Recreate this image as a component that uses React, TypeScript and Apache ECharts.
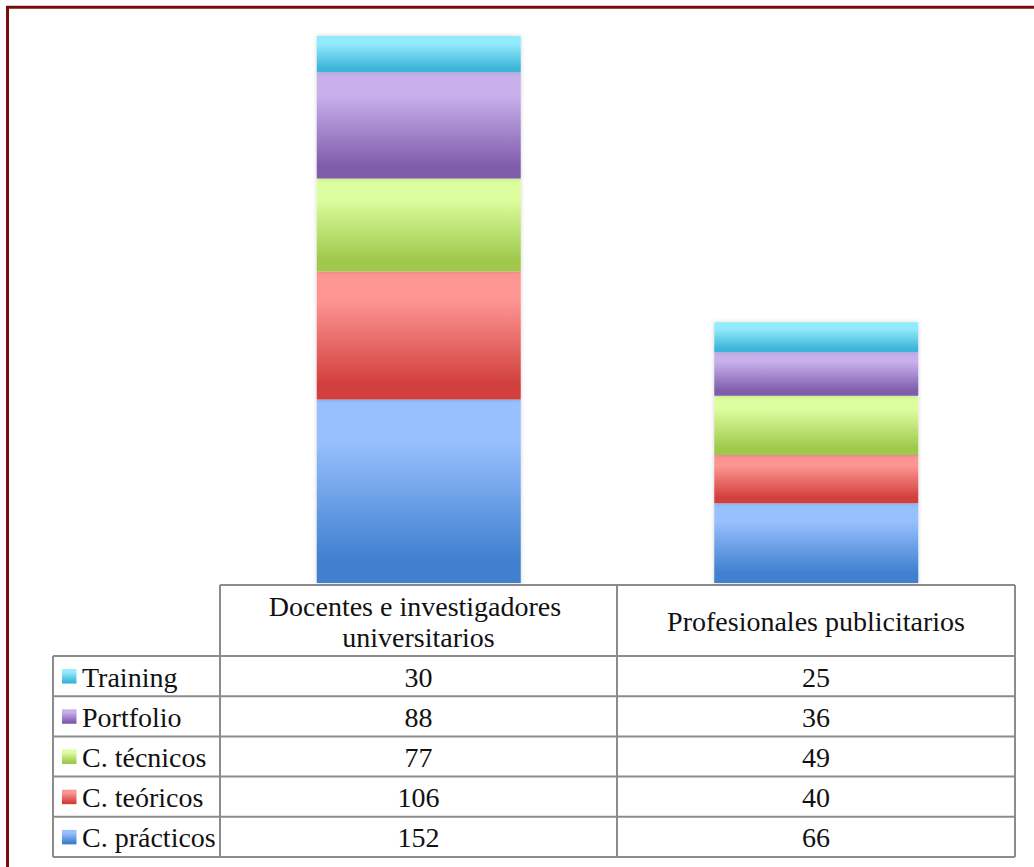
import React, { useEffect, useRef } from "react";
import * as echarts from "echarts";

const categories = ["Docentes e investigadores universitarios", "Profesionales publicitarios"];
const seriesNames = ["C. prácticos", "C. teóricos", "C. técnicos", "Portfolio", "Training"];
const practicos = [152, 66];
const teoricos = [106, 40];
const tecnicos = [77, 49];
const portfolio = [88, 36];
const training = [30, 25];
const seriesValues = [practicos, teoricos, tecnicos, portfolio, training];

const lightColors = ["#98C0FE", "#FD9693", "#DCFE9E", "#C8B0EB", "#92EBFC"];
const darkColors = ["#3F80CF", "#D2403C", "#A0C84C", "#805DAC", "#3DB5D9"];

const FONT = "'Liberation Serif', 'Times New Roman', serif";
const FS = 28;

function grad(i: number) {
  return new echarts.graphic.LinearGradient(0, 0, 0, 1, [
    { offset: 0, color: lightColors[i] },
    { offset: 0.22, color: lightColors[i] },
    { offset: 0.88, color: darkColors[i] },
    { offset: 1, color: darkColors[i] },
  ]);
}

export default function App() {
  const ref = useRef<HTMLDivElement>(null);
  useEffect(() => {
    if (!ref.current) return;
    const chart = echarts.init(ref.current, null, { renderer: "svg" });

    const totals = categories.map((_, c) => seriesValues.reduce((s, arr) => s + arr[c], 0));

    // table geometry
    const lineColor = "#8c8c8c";
    const tLeft = 53;
    const c0 = 220;
    const c1 = 617;
    const c2 = 1015;
    const headTop = 585;
    const rowTop = 656;
    const rowH = 40.2;
    const nRows = seriesNames.length;
    const tBottom = rowTop + rowH * nRows;
    const colX = [c0, c1, c2];

    const g: any[] = [];
    // border
    g.push({
      type: "rect",
      shape: { x: 7.5, y: 7.3, width: 1200, height: 1000 },
      style: { fill: "none", stroke: "#7a0c0c", lineWidth: 3 },
      silent: true,
    });
    const ln = (x1: number, y1: number, x2: number, y2: number) =>
      g.push({
        type: "line",
        shape: { x1, y1, x2, y2 },
        style: { stroke: lineColor, lineWidth: 2 },
        silent: true,
      });
    // horizontals
    ln(c0, headTop, c2, headTop);
    for (let r = 0; r <= nRows; r++) {
      const y = rowTop + r * rowH;
      ln(tLeft, y, c2, y);
    }
    // verticals
    ln(tLeft, rowTop, tLeft, tBottom);
    ln(c0, headTop, c0, tBottom);
    ln(c1, headTop, c1, tBottom);
    ln(c2, headTop, c2, tBottom);

    // header texts
    categories.forEach((cat, ci) => {
      g.push({
        type: "text",
        x: (colX[ci] + colX[ci + 1]) / 2,
        y: (headTop + rowTop) / 2 + 1,
        style: {
          text: cat,
          width: 370,
          overflow: "break",
          lineHeight: 31,
          fontFamily: FONT,
          fontSize: FS,
          fill: "#111",
          align: "center",
          verticalAlign: "middle",
        },
        silent: true,
      });
    });

    // rows: top = last series
    for (let r = 0; r < nRows; r++) {
      const si = nRows - 1 - r;
      const yMid = rowTop + r * rowH + rowH / 2;
      g.push({
        type: "rect",
        shape: { x: 62, y: yMid - 7, width: 14.5, height: 14.5 },
        style: { fill: grad(si) },
        silent: true,
      });
      g.push({
        type: "text",
        x: 82,
        y: yMid + 1,
        style: {
          text: seriesNames[si],
          fontFamily: FONT,
          fontSize: FS,
          fill: "#111",
          align: "left",
          verticalAlign: "middle",
        },
        silent: true,
      });
      categories.forEach((_, ci) => {
        g.push({
          type: "text",
          x: (colX[ci] + colX[ci + 1]) / 2,
          y: yMid + 1,
          style: {
            text: String(seriesValues[si][ci]),
            fontFamily: FONT,
            fontSize: FS,
            fill: "#111",
            align: "center",
            verticalAlign: "middle",
          },
          silent: true,
        });
      });
    }

    chart.setOption({
      animation: false,
      backgroundColor: "#ffffff",
      grid: { left: c0, right: 1034 - c2, top: 36, bottom: 867 - 583 },
      xAxis: {
        type: "category",
        data: categories,
        axisLine: { show: false },
        axisTick: { show: false },
        axisLabel: { show: false },
        splitLine: { show: false },
      },
      yAxis: {
        type: "value",
        min: 0,
        max: Math.max(...totals),
        show: false,
        splitLine: { show: false },
      },
      series: seriesNames.map((name, i) => ({
        name,
        type: "bar",
        stack: "total",
        barWidth: 204,
        data: seriesValues[i],
        itemStyle: {
          color: grad(i),
          shadowBlur: 4,
          shadowColor: "rgba(0,0,0,0.18)",
        },
      })),
      graphic: g,
    });
    return () => chart.dispose();
  }, []);
  return (
    <div
      ref={ref}
      style={{ position: "absolute", left: 0, top: 0, width: 1034, height: 867 }}
    />
  );
}
